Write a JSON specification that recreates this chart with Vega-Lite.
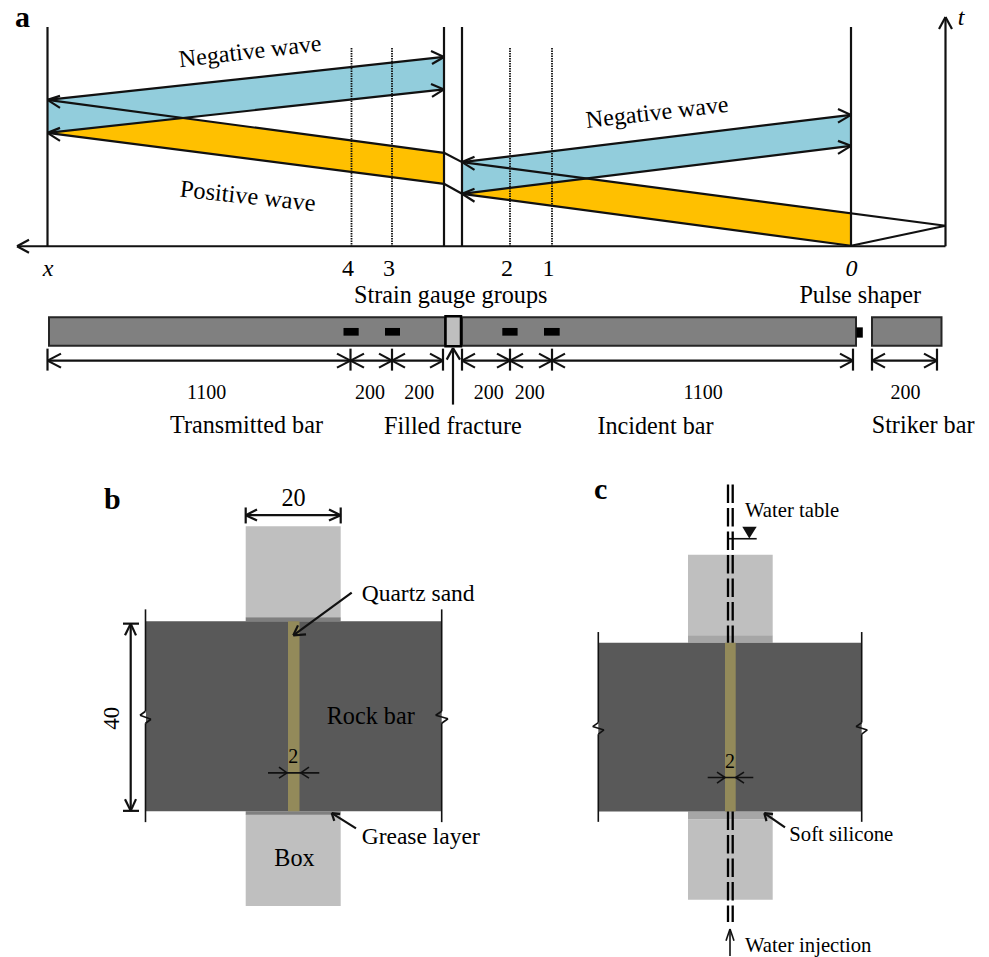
{
"$schema":"https://vega.github.io/schema/vega-lite/v6.json",
"width":989,"height":957,"padding":0,"autosize":{"type":"fit","contains":"padding"},
"background":"white","view":{"stroke":null},
"config":{"text":{"font":"Liberation Serif","color":"#000000","baseline":"alphabetic","align":"left"}},
"datasets":{
"fills":[
{"x":245.7,"x2":340.7,"y":526.7,"y2":618,"part":"box"},
{"x":245.7,"x2":340.7,"y":815,"y2":907,"part":"box"},
{"x":245.7,"x2":340.7,"y":618,"y2":622,"part":"grease"},
{"x":245.7,"x2":340.7,"y":812,"y2":815.5,"part":"grease"},
{"x":146,"x2":441.7,"y":622,"y2":812,"part":"rock"},
{"x":288,"x2":299.5,"y":622,"y2":812,"part":"sand"},
{"x":688,"x2":772.7,"y":555.3,"y2":636,"part":"box"},
{"x":688,"x2":772.7,"y":820,"y2":900.7,"part":"box"},
{"x":688,"x2":772.7,"y":636,"y2":643.3,"part":"silicone"},
{"x":688,"x2":772.7,"y":812.3,"y2":820,"part":"silicone"},
{"x":598.3,"x2":861.7,"y":643.3,"y2":812.3,"part":"rock"},
{"x":725,"x2":735.7,"y":643.3,"y2":812.3,"part":"sand"}
],
"bands":[
{"band":"blue left","part":"blue","x":47.5,"y":100,"y2":133},
{"band":"blue left","part":"blue","x":444,"y":57,"y2":89.5},
{"band":"orange left","part":"orange","x":47.5,"y":133,"y2":133},
{"band":"orange left","part":"orange","x":180,"y":118,"y2":150},
{"band":"orange left","part":"orange","x":444,"y":153,"y2":184},
{"band":"blue right","part":"blue","x":462,"y":162.3,"y2":194},
{"band":"blue right","part":"blue","x":851,"y":115,"y2":146},
{"band":"orange right","part":"orange","x":462,"y":194,"y2":194},
{"band":"orange right","part":"orange","x":587,"y":178.6,"y2":210.7},
{"band":"orange right","part":"orange","x":851,"y":213,"y2":246},
{"band":"water mark","part":"black","x":742.3,"y":527.3,"y2":527.3},
{"band":"water mark","part":"black","x":749.3,"y":527.3,"y2":539},
{"band":"water mark","part":"black","x":756.7,"y":527.3,"y2":527.3}
],
"bars":[
{"x":49,"x2":445,"y":317.5,"y2":346},
{"x":462,"x2":856,"y":317.5,"y2":346},
{"x":872,"x2":941.5,"y":317.5,"y2":346}
],
"fracture":[{"x":445.5,"x2":461,"y":316.5,"y2":346.5}],
"blocks":[
{"x":343.5,"x2":358.7,"y":328.3,"y2":336},
{"x":385,"x2":400,"y":328.3,"y2":336},
{"x":502.3,"x2":517.6,"y":328.3,"y2":336},
{"x":544,"x2":559.7,"y":328.3,"y2":336},
{"x":856.4,"x2":862.8,"y":327.7,"y2":338}
],
"lines":[
{"x":47.5,"y":27,"x2":47.5,"y2":246.5},{"x":444,"y":27,"x2":444,"y2":246.5},{"x":462,"y":27,"x2":462,"y2":246.5},{"x":851,"y":27,"x2":851,"y2":246.5},
{"x":17,"y":246.5,"x2":945.5,"y2":246.5},{"x":945.5,"y":17,"x2":945.5,"y2":246.5},
{"x":17,"y":246.5,"x2":29,"y2":240},{"x":17,"y":246.5,"x2":29,"y2":253},
{"x":945.5,"y":17,"x2":939,"y2":29},{"x":945.5,"y":17,"x2":952,"y2":29},
{"x":47.5,"y":100,"x2":444,"y2":57},{"x":47.5,"y":133,"x2":444,"y2":89.5},
{"x":47.5,"y":100,"x2":444,"y2":153},{"x":47.5,"y":133,"x2":444,"y2":184},
{"x":444,"y":153,"x2":462,"y2":162.3},{"x":444,"y":184,"x2":462,"y2":194},
{"x":444,"y":57,"x2":431,"y2":51},{"x":444,"y":57,"x2":432,"y2":64},
{"x":444,"y":89.5,"x2":431,"y2":84},{"x":444,"y":89.5,"x2":432,"y2":97},
{"x":47.5,"y":100,"x2":60,"y2":96},{"x":47.5,"y":100,"x2":60,"y2":108},
{"x":47.5,"y":133,"x2":60,"y2":128},{"x":47.5,"y":133,"x2":60,"y2":141},
{"x":462,"y":162.3,"x2":851,"y2":115},{"x":462,"y":194,"x2":851,"y2":146},
{"x":462,"y":162.3,"x2":945.5,"y2":226},{"x":462,"y":194,"x2":851,"y2":246},{"x":851,"y":246,"x2":945.5,"y2":226},
{"x":462,"y":162.3,"x2":474.5,"y2":157},{"x":462,"y":162.3,"x2":474.5,"y2":170},
{"x":462,"y":194,"x2":474.5,"y2":189},{"x":462,"y":194,"x2":474.5,"y2":202},
{"x":851,"y":115,"x2":838,"y2":109},{"x":851,"y":115,"x2":838,"y2":122.7},
{"x":851,"y":146,"x2":838,"y2":141},{"x":851,"y":146,"x2":838,"y2":154},
{"x":47.5,"y":361,"x2":443,"y2":361},{"x":462,"y":361,"x2":853,"y2":361},{"x":872,"y":361,"x2":937,"y2":361},
{"x":47.5,"y":349,"x2":47.5,"y2":371},{"x":350.5,"y":349,"x2":350.5,"y2":371},{"x":392,"y":349,"x2":392,"y2":371},{"x":443,"y":349,"x2":443,"y2":371},
{"x":462,"y":349,"x2":462,"y2":371},{"x":510,"y":349,"x2":510,"y2":371},{"x":552,"y":349,"x2":552,"y2":371},{"x":853,"y":349,"x2":853,"y2":371},
{"x":872,"y":349,"x2":872,"y2":371},{"x":937,"y":349,"x2":937,"y2":371},
{"x":47.5,"y":361,"x2":61,"y2":354},{"x":47.5,"y":361,"x2":61,"y2":368},
{"x":350.5,"y":361,"x2":337,"y2":354},{"x":350.5,"y":361,"x2":337,"y2":368},
{"x":350.5,"y":361,"x2":364,"y2":354},{"x":350.5,"y":361,"x2":364,"y2":368},
{"x":392,"y":361,"x2":379,"y2":354},{"x":392,"y":361,"x2":379,"y2":368},
{"x":392,"y":361,"x2":405,"y2":354},{"x":392,"y":361,"x2":405,"y2":368},
{"x":443,"y":361,"x2":430,"y2":354},{"x":443,"y":361,"x2":430,"y2":368},
{"x":462,"y":361,"x2":475,"y2":354},{"x":462,"y":361,"x2":475,"y2":368},
{"x":510,"y":361,"x2":497,"y2":354},{"x":510,"y":361,"x2":497,"y2":368},
{"x":510,"y":361,"x2":523,"y2":354},{"x":510,"y":361,"x2":523,"y2":368},
{"x":552,"y":361,"x2":539,"y2":354},{"x":552,"y":361,"x2":539,"y2":368},
{"x":552,"y":361,"x2":565,"y2":354},{"x":552,"y":361,"x2":565,"y2":368},
{"x":853,"y":361,"x2":840,"y2":354},{"x":853,"y":361,"x2":840,"y2":368},
{"x":872,"y":361,"x2":885,"y2":354},{"x":872,"y":361,"x2":885,"y2":368},
{"x":937,"y":361,"x2":924,"y2":354},{"x":937,"y":361,"x2":924,"y2":368},
{"x":453,"y":348.5,"x2":453,"y2":405},{"x":453,"y":348.5,"x2":446.7,"y2":360},{"x":453,"y":348.5,"x2":460,"y2":360},
{"x":245.7,"y":515.7,"x2":340.7,"y2":515.7},{"x":245.7,"y":508,"x2":245.7,"y2":524},{"x":340.7,"y":508,"x2":340.7,"y2":524},
{"x":245.7,"y":515.7,"x2":257,"y2":510},{"x":245.7,"y":515.7,"x2":257,"y2":521},
{"x":340.7,"y":515.7,"x2":329,"y2":510},{"x":340.7,"y":515.7,"x2":329,"y2":521},
{"x":130.7,"y":624.3,"x2":130.7,"y2":811.7},{"x":123,"y":624.3,"x2":139,"y2":624.3},{"x":123,"y":811.7,"x2":139,"y2":811.7},
{"x":130.7,"y":624.3,"x2":125,"y2":636},{"x":130.7,"y":624.3,"x2":136,"y2":636},
{"x":130.7,"y":811.7,"x2":125,"y2":800},{"x":130.7,"y":811.7,"x2":136,"y2":800},
{"x":351.7,"y":593.3,"x2":293.3,"y2":636},{"x":293.3,"y":636,"x2":306,"y2":635},{"x":293.3,"y":636,"x2":298,"y2":626},
{"x":356,"y":829.3,"x2":331.7,"y2":814},{"x":331.7,"y":814,"x2":340,"y2":815},{"x":331.7,"y":814,"x2":334.3,"y2":821.7},
{"x":785,"y":828.3,"x2":764.3,"y2":814},{"x":764.3,"y":814,"x2":773,"y2":815},{"x":764.3,"y":814,"x2":766.5,"y2":822}
],
"thin":[
{"x":145.5,"y":610,"x2":145.5,"y2":712},{"x":145.5,"y":724,"x2":145.5,"y2":823},
{"x":441.7,"y":610,"x2":441.7,"y2":712},{"x":441.7,"y":724,"x2":441.7,"y2":823},
{"x":145.5,"y":712,"x2":140,"y2":716},{"x":140,"y":716,"x2":151,"y2":720},{"x":151,"y":720,"x2":145.5,"y2":724},
{"x":441.7,"y":712,"x2":435.7,"y2":716},{"x":435.7,"y":716,"x2":448,"y2":719.5},{"x":448,"y":719.5,"x2":441.7,"y2":724},
{"x":598.3,"y":632.7,"x2":598.3,"y2":723.3},{"x":598.3,"y":735,"x2":598.3,"y2":822.7},
{"x":861.7,"y":632.7,"x2":861.7,"y2":723.3},{"x":861.7,"y":735,"x2":861.7,"y2":822.7},
{"x":598.3,"y":723.3,"x2":592.7,"y2":727.3},{"x":592.7,"y":727.3,"x2":604,"y2":730.7},{"x":604,"y":730.7,"x2":598.3,"y2":735},
{"x":861.7,"y":723.3,"x2":856,"y2":727.3},{"x":856,"y":727.3,"x2":867.3,"y2":730.7},{"x":867.3,"y":730.7,"x2":861.7,"y2":735},
{"x":268,"y":773.7,"x2":319.3,"y2":773.7},{"x":287,"y":773.7,"x2":279,"y2":768},{"x":287,"y":773.7,"x2":279,"y2":779},{"x":300.7,"y":773.7,"x2":309,"y2":768},{"x":300.7,"y":773.7,"x2":309,"y2":779},
{"x":707.7,"y":778.3,"x2":753.3,"y2":778.3},{"x":725,"y":778.3,"x2":717,"y2":773},{"x":725,"y":778.3,"x2":717,"y2":784},{"x":735.7,"y":778.3,"x2":744,"y2":773},{"x":735.7,"y":778.3,"x2":744,"y2":784},
{"x":728,"y":539.3,"x2":756.7,"y2":539.3},
{"x":730,"y":930,"x2":730,"y2":957},{"x":730,"y":930,"x2":726,"y2":941.7},{"x":730,"y":930,"x2":734,"y2":941.7}
],
"dotted":[
{"x":351.5,"y":48,"x2":351.5,"y2":246.5},{"x":392,"y":48,"x2":392,"y2":246.5},{"x":510,"y":48,"x2":510,"y2":246.5},{"x":552,"y":48,"x2":552,"y2":246.5}
],
"dashed":[
{"x":728,"y":485,"x2":728,"y2":643.3},{"x":732.7,"y":485,"x2":732.7,"y2":643.3},
{"x":728,"y":812.3,"x2":728,"y2":923},{"x":732.7,"y":812.3,"x2":732.7,"y2":923}
],
"t24":[
{"x":354,"y":303,"label":"Strain gauge groups"},{"x":799.4,"y":303,"label":"Pulse shaper"},
{"x":170,"y":433,"label":"Transmitted bar"},{"x":384,"y":434.5,"label":"Filled fracture"},{"x":597.4,"y":434.5,"label":"Incident  bar"},{"x":871.7,"y":433,"label":"Striker bar"},
{"x":326.7,"y":725,"label":"Rock bar"},{"x":274.3,"y":867.3,"label":"Box"},
{"x":281.5,"y":506.7,"label":"20"}
],
"t23":[
{"x":361.7,"y":601.7,"label":"Quartz sand"},{"x":361.7,"y":845,"label":"Grease layer"}
],
"t20":[
{"x":745,"y":517.5,"label":"Water table"},{"x":789.3,"y":841.7,"label":"Soft silicone"},{"x":745,"y":952.7,"label":"Water injection"}
],
"tcenter":[
{"x":206.7,"y":399,"label":"1100"},{"x":370,"y":399,"label":"200"},{"x":419.3,"y":399,"label":"200"},{"x":488.8,"y":399,"label":"200"},{"x":529.8,"y":399,"label":"200"},{"x":703,"y":399,"label":"1100"},{"x":905.6,"y":399,"label":"200"},
{"x":293.3,"y":763.3,"label":"2"},{"x":730,"y":769.3,"label":"2"}
],
"ticks":[
{"x":348,"y":276,"label":"4"},{"x":389,"y":276,"label":"3"},{"x":507,"y":276,"label":"2"},{"x":548.6,"y":276,"label":"1"}
],
"italic":[
{"x":48,"y":276,"label":"x"},{"x":851.4,"y":276,"label":"0"},{"x":961,"y":25,"label":"t"}
],
"panels":[
{"x":15,"y":27,"label":"a"},{"x":104,"y":510,"label":"b"},{"x":594,"y":500,"label":"c"}
]
},
"encoding":{
"x":{"field":"x","type":"quantitative","axis":null,"scale":{"domain":[0,989],"nice":false,"zero":false}},
"y":{"field":"y","type":"quantitative","axis":null,"stack":null,"scale":{"domain":[957,0],"nice":false,"zero":false}}
},
"layer":[
{"data":{"name":"fills"},"mark":{"type":"rect"},"encoding":{"x2":{"field":"x2"},"y2":{"field":"y2"},
 "color":{"field":"part","type":"nominal","legend":null,"scale":{"domain":["box","grease","silicone","rock","sand","blue","orange","black"],"range":["#bfbfbf","#7f7f7f","#a6a6a6","#595959","#938a5a","#92cddc","#ffc000","#111111"]}}}},
{"data":{"name":"bands"},"mark":{"type":"area","interpolate":"linear"},"encoding":{"y2":{"field":"y2"},"detail":{"field":"band","type":"nominal"},
 "color":{"field":"part","type":"nominal","legend":null,"scale":{"domain":["box","grease","silicone","rock","sand","blue","orange","black"],"range":["#bfbfbf","#7f7f7f","#a6a6a6","#595959","#938a5a","#92cddc","#ffc000","#111111"]}}}},
{"data":{"name":"bars"},"mark":{"type":"rect","fill":"#808080","stroke":"#262626","strokeWidth":2},"encoding":{"x2":{"field":"x2"},"y2":{"field":"y2"}}},
{"data":{"name":"fracture"},"mark":{"type":"rect","fill":"#bfbfbf","stroke":"#000000","strokeWidth":2.5},"encoding":{"x2":{"field":"x2"},"y2":{"field":"y2"}}},
{"data":{"name":"blocks"},"mark":{"type":"rect","fill":"#000000"},"encoding":{"x2":{"field":"x2"},"y2":{"field":"y2"}}},
{"data":{"name":"dotted"},"mark":{"type":"rule","color":"#111111","strokeWidth":1.8,"strokeDash":[1.5,1]},"encoding":{"x2":{"field":"x2"},"y2":{"field":"y2"}}},
{"data":{"name":"lines"},"mark":{"type":"rule","color":"#111111","strokeWidth":2.2},"encoding":{"x2":{"field":"x2"},"y2":{"field":"y2"}}},
{"data":{"name":"thin"},"mark":{"type":"rule","color":"#111111","strokeWidth":1.6},"encoding":{"x2":{"field":"x2"},"y2":{"field":"y2"}}},
{"data":{"name":"dashed"},"mark":{"type":"rule","color":"#000000","strokeWidth":2.3,"strokeDash":[18.5,5]},"encoding":{"x2":{"field":"x2"},"y2":{"field":"y2"}}},
{"data":{"name":"t24"},"mark":{"type":"text","fontSize":24.2},"encoding":{"text":{"field":"label"}}},
{"data":{"name":"t23"},"mark":{"type":"text","fontSize":23.5},"encoding":{"text":{"field":"label"}}},
{"data":{"name":"t20"},"mark":{"type":"text","fontSize":20.7},"encoding":{"text":{"field":"label"}}},
{"data":{"name":"tcenter"},"mark":{"type":"text","fontSize":20,"align":"center"},"encoding":{"text":{"field":"label"}}},
{"data":{"name":"ticks"},"mark":{"type":"text","fontSize":24,"align":"center"},"encoding":{"text":{"field":"label"}}},
{"data":{"name":"italic"},"mark":{"type":"text","fontSize":24,"align":"center","fontStyle":"italic"},"encoding":{"text":{"field":"label"}}},
{"data":{"name":"panels"},"mark":{"type":"text","fontSize":30,"fontWeight":"bold"},"encoding":{"text":{"field":"label"}}},
{"data":{"values":[{"x":251,"y":59,"label":"Negative wave"}]},"mark":{"type":"text","fontSize":24,"align":"center","angle":353.4},"encoding":{"text":{"field":"label"}}},
{"data":{"values":[{"x":658,"y":120,"label":"Negative wave"}]},"mark":{"type":"text","fontSize":24,"align":"center","angle":353.5},"encoding":{"text":{"field":"label"}}},
{"data":{"values":[{"x":247,"y":204,"label":"Positive wave"}]},"mark":{"type":"text","fontSize":24.4,"align":"center","angle":6.2},"encoding":{"text":{"field":"label"}}},
{"data":{"values":[{"x":119,"y":719,"label":"40"}]},"mark":{"type":"text","fontSize":23,"align":"center","angle":270},"encoding":{"text":{"field":"label"}}}
]
}
